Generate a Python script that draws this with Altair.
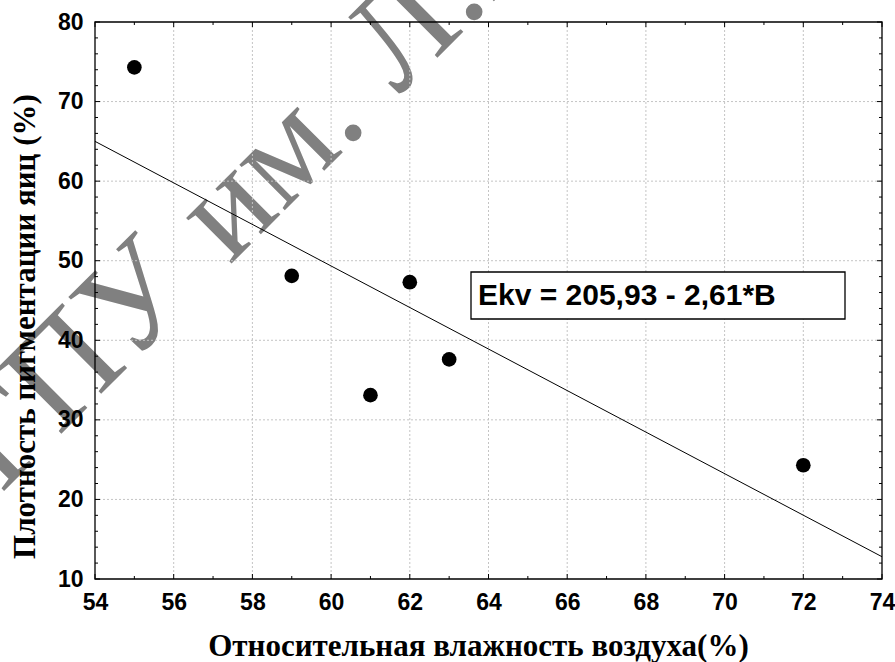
import altair as alt
import pandas as pd

# ---- data ----
humidity = [55, 59, 61, 62, 63, 72]
pigment = [74.3, 48.1, 33.1, 47.3, 37.6, 24.3]

fit_x = [54, 74]
fit_y = [65.0, 12.8]

x_major = [54, 56, 58, 60, 62, 64, 66, 68, 70, 72, 74]
x_minor = [55, 57, 59, 61, 63, 65, 67, 69, 71, 73]
y_major = [10, 20, 30, 40, 50, 60, 70, 80]
y_minor = [12, 14, 16, 18, 22, 24, 26, 28, 32, 34, 36, 38, 42, 44, 46, 48,
           52, 54, 56, 58, 62, 64, 66, 68, 72, 74, 76, 78]
x_grid = [56, 58, 60, 62, 64, 66, 68, 70, 72]
y_grid = [20, 30, 40, 50, 60, 70]

equation = ["Ekv = 205,93 - 2,61*B"]
watermark_a = ["ТГПУ"]
watermark_b = ["им."]
watermark_c = ["Л.Н. Толстого"]

x_title = "Относительная влажность воздуха(%)"
y_title = "Плотность пигментации яиц (%)"

W, H = 787, 557

xs = alt.Scale(domain=[54, 74], nice=False, zero=False)
ys = alt.Scale(domain=[10, 80], nice=False, zero=False)

x_axis = alt.Axis(values=x_major, title=x_title, grid=False, ticks=False,
                  tickSize=0, domain=False, labelFont="Liberation Sans",
                  labelFontWeight="bold", labelFontSize=23, labelColor="black",
                  labelPadding=12, labelFlush=False,
                  titleFont="Liberation Serif", titleFontWeight="bold",
                  titleFontSize=31, titleColor="black", titleX=383, titleY=76,
                  titleBaseline="alphabetic", zindex=1)
y_axis = alt.Axis(values=y_major, title=y_title, grid=False, ticks=False,
                  tickSize=0, domain=False, labelFont="Liberation Sans",
                  labelFontWeight="bold", labelFontSize=23, labelColor="black",
                  labelPadding=12, labelFlush=False,
                  titleFont="Liberation Serif", titleFontWeight="bold",
                  titleFontSize=31, titleColor="black", titleX=-61, titleY=304,
                  titleBaseline="alphabetic", titleAngle=270, zindex=1)

def X(field):
    return alt.X(field, scale=xs, axis=x_axis)

def Y(field):
    return alt.Y(field, scale=ys, axis=y_axis)

pts = pd.DataFrame({"h": humidity, "p": pigment})
fit = pd.DataFrame({"h": fit_x, "p": fit_y})

# watermark (decorative, rotated serif text)
def wm(txt, px, py, align):
    return alt.Chart(pd.DataFrame({"t": txt})).mark_text(
        font="Liberation Serif", fontSize=140, color="#808080", angle=315,
        align=align, baseline="alphabetic"
    ).encode(x=alt.value(px), y=alt.value(py), text="t:N")

wm1 = wm(watermark_a, 105, 273, "right")
wm2 = wm(watermark_b, 275, 103, "right")
wm3 = wm(watermark_c, 304, 74, "left")

grid_style = dict(color="#c4c4c4", strokeDash=[2, 2], strokeWidth=1)
gx = alt.Chart(pd.DataFrame({"h": x_grid})).mark_rule(**grid_style).encode(
    x=X("h:Q"), y=alt.value(0), y2=alt.value(H))
gy = alt.Chart(pd.DataFrame({"p": y_grid})).mark_rule(**grid_style).encode(
    y=Y("p:Q"), x=alt.value(0), x2=alt.value(W))

def xticks(vals, ln):
    d = pd.DataFrame({"h": vals})
    b = alt.Chart(d).mark_rule(color="black", strokeWidth=1).encode(
        x=X("h:Q"), y=alt.value(H), y2=alt.value(H - ln))
    t = alt.Chart(d).mark_rule(color="black", strokeWidth=1).encode(
        x=X("h:Q"), y=alt.value(0), y2=alt.value(ln))
    return [b, t]

def yticks(vals, ln):
    d = pd.DataFrame({"p": vals})
    l = alt.Chart(d).mark_rule(color="black", strokeWidth=1).encode(
        y=Y("p:Q"), x=alt.value(0), x2=alt.value(ln))
    r = alt.Chart(d).mark_rule(color="black", strokeWidth=1).encode(
        y=Y("p:Q"), x=alt.value(W), x2=alt.value(W - ln))
    return [l, r]

ticks = xticks(x_major, 5) + xticks(x_minor, 3) + yticks(y_major, 5) + yticks(y_minor, 3)

frame = alt.Chart(pd.DataFrame({"a": [0]})).mark_rect(
    filled=False, stroke="black", strokeWidth=1.3
).encode(x=alt.value(0), x2=alt.value(W), y=alt.value(0), y2=alt.value(H))

line = alt.Chart(fit).mark_line(color="black", strokeWidth=1).encode(
    x=X("h:Q"), y=Y("p:Q"))

points = alt.Chart(pts).mark_circle(size=215, color="black", opacity=1).encode(
    x=X("h:Q"), y=Y("p:Q"))

box = alt.Chart(pd.DataFrame({"a": [0]})).mark_rect(
    fill="white", stroke="black", strokeWidth=1.3
).encode(x=alt.value(376), x2=alt.value(750), y=alt.value(250), y2=alt.value(297))

eq = alt.Chart(pd.DataFrame({"t": equation})).mark_text(
    font="Liberation Sans", fontWeight="bold", fontSize=30, color="black",
    align="left", baseline="middle"
).encode(x=alt.value(383), y=alt.value(274), text="t:N")

chart = alt.layer(wm1, wm2, wm3, gx, gy, *ticks, frame, line, points, box, eq).properties(
    width=W, height=H,
    autosize=alt.AutoSizeParams(type="none"),
    padding={"left": 95, "top": 22, "right": 13, "bottom": 83},
    background="white",
).configure_view(stroke=None)

chart.save("out.html", embed_options={"renderer": "svg", "actions": False})
